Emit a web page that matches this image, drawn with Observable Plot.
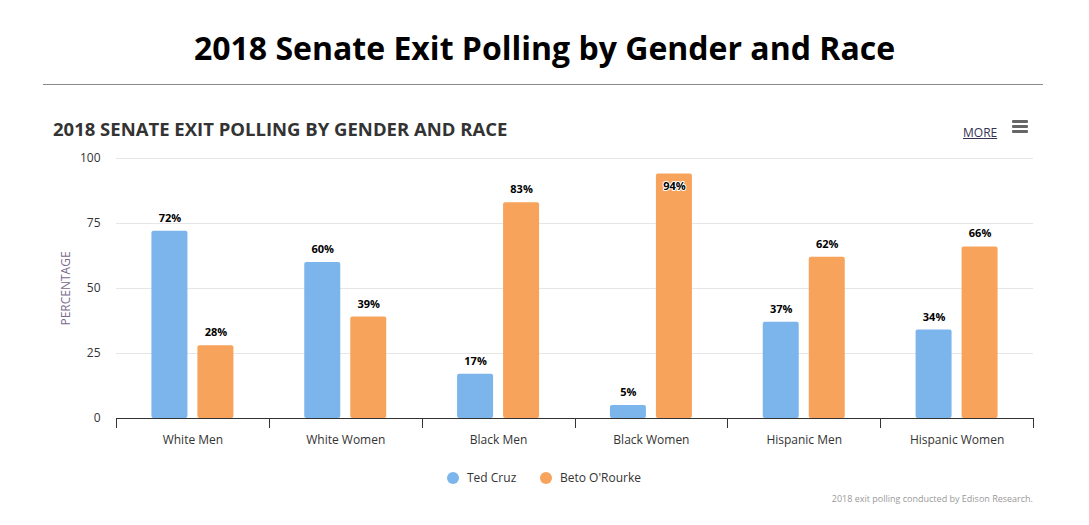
<!DOCTYPE html>
<html>
<head>
<meta charset="utf-8">
<script src="https://cdn.jsdelivr.net/npm/d3@7"></script>
<script src="https://cdn.jsdelivr.net/npm/@observablehq/plot@0.6"></script>
<style>
  html, body { margin: 0; padding: 0; background: #fff; }
  body { width: 1089px; height: 525px; position: relative; overflow: hidden; font-family: "Open Sans", "Noto Sans", sans-serif; }
  .title { position: absolute; left: 0; width: 1089px; top: 28px; line-height: 40px; text-align: center; font-size: 32px; font-weight: 700; color: #000; }
  .divider { position: absolute; left: 43px; width: 1000px; top: 84px; height: 1px; background: #8a8a8a; }
  .subtitle { position: absolute; left: 53px; top: 117px; line-height: 24px; font-size: 18.5px; font-weight: 700; color: #333; }
  .more { position: absolute; left: 963px; top: 125px; line-height: 16px; font-size: 12px; color: #333355; text-decoration: underline; }
  .menu { position: absolute; left: 1012px; top: 120px; width: 16px; }
  .menu span { display: block; height: 2.5px; background: #666; border-radius: 1px; margin-bottom: 2.5px; }
  #chart { position: absolute; left: 0; top: 140px; }
  .legend { position: absolute; left: 0; width: 1089px; top: 470px; height: 16px; }
  .legend .item { position: absolute; top: 0; line-height: 16px; font-size: 12px; color: #333; white-space: nowrap; }
  .legend .dot { position: absolute; top: 2px; width: 12px; height: 12px; border-radius: 50%; }
  .caption { position: absolute; right: 56px; top: 492px; line-height: 14px; font-size: 9px; color: #999; }
</style>
</head>
<body>
<div class="title">2018 Senate Exit Polling by Gender and Race</div>
<div class="divider"></div>
<div class="subtitle">2018 SENATE EXIT POLLING BY GENDER AND RACE</div>
<div class="more">MORE</div>
<div class="menu"><span></span><span></span><span></span></div>
<div id="chart"></div>
<div class="legend" id="legend"></div>
<div class="caption">2018 exit polling conducted by Edison Research.</div>
<script>
// Exit-poll shares (%) by group
const groups = ["White Men", "White Women", "Black Men", "Black Women", "Hispanic Men", "Hispanic Women"];
const candidates = ["Ted Cruz", "Beto O'Rourke"];
const cruz = [72, 60, 17, 5, 37, 34];
const orourke = [28, 39, 83, 94, 62, 66];
const colors = ["#7cb5ec", "#f7a35c"];
const yTicks = [0, 25, 50, 75, 100];

const rows = [];
groups.forEach((g, i) => {
  rows.push({group: g, candidate: candidates[0], value: cruz[i]});
  rows.push({group: g, candidate: candidates[1], value: orourke[i]});
});

const width = 1089, height = 320;
const marginLeft = 116, marginRight = 56, marginTop = 18, marginBottom = 42;
const step = (width - marginLeft - marginRight) / groups.length;
const barW = 36, gap = 10;
// insets place the two bars side by side around each category centre
const innerL = step / 2 - gap / 2 - barW;   // left inset of the first bar
const outerR = step / 2 + gap / 2;          // right inset of the first bar
const shift = gap / 2 + barW / 2;           // label offset from the category centre

const font = "Open Sans, Noto Sans, sans-serif";

// category separator ticks on the x axis
function bandTicks(index, scales, values, dims) {
  const g = d3.create("svg:g").attr("stroke", "#333").attr("stroke-width", 1);
  const y0 = dims.height - dims.marginBottom;
  const xs = groups.map(c => scales.x(c));
  xs.push(dims.width - dims.marginRight);
  for (const x of xs) {
    g.append("line")
      .attr("x1", Math.round(x) + 0.5).attr("x2", Math.round(x) + 0.5)
      .attr("y1", y0).attr("y2", y0 + 10);
  }
  return g.node();
}

const labelStyle = {fontWeight: "bold", fontSize: 11, fill: "#000", stroke: "#fff", strokeWidth: 2};
const fits = d => d.value < 90;   // labels that fit above the bar
const fmt = d => `${d.value}%`;
const byCand = k => rows.filter(d => d.candidate === candidates[k]);

const chart = Plot.plot({
  width, height, marginLeft, marginRight, marginTop, marginBottom,
  style: {fontFamily: font, fontSize: "12px", color: "#333", background: "transparent"},
  x: {type: "band", domain: groups, padding: 0, round: false, label: null, tickSize: 0, tickPadding: 17},
  y: {domain: [0, 100], ticks: yTicks, label: "PERCENTAGE", labelAnchor: "center", labelArrow: "none",
      tickSize: 0, tickPadding: 16, labelOffset: 55},
  color: {domain: candidates, range: colors},
  marks: [
    Plot.gridY(yTicks, {stroke: "#e6e6e6", strokeOpacity: 1}),
    Plot.barY(byCand(0), {x: "group", y: "value", fill: "candidate", insetLeft: innerL, insetRight: outerR, rx: 2}),
    Plot.barY(byCand(1), {x: "group", y: "value", fill: "candidate", insetLeft: outerR, insetRight: innerL, rx: 2}),
    Plot.ruleY([0], {stroke: "#333"}),
    bandTicks,
    Plot.text(byCand(0).filter(fits), {x: "group", y: "value", text: fmt, dx: -shift, dy: -13, ...labelStyle}),
    Plot.text(byCand(1).filter(fits), {x: "group", y: "value", text: fmt, dx: shift, dy: -13, ...labelStyle}),
    Plot.text(byCand(0).filter(d => !fits(d)), {x: "group", y: "value", text: fmt, dx: -shift, dy: 12, ...labelStyle}),
    Plot.text(byCand(1).filter(d => !fits(d)), {x: "group", y: "value", text: fmt, dx: shift, dy: 12, ...labelStyle})
  ]
});
// axis title colour
d3.select(chart).selectAll('[aria-label="y-axis label"] text').attr("fill", "#7b6a8c");
document.getElementById("chart").append(chart);

// legend
const legend = d3.select("#legend");
const legendPos = [447, 540];
candidates.forEach((c, i) => {
  const item = legend.append("div").attr("class", "item").style("left", legendPos[i] + "px");
  item.append("div").attr("class", "dot").style("left", "0px").style("background", colors[i]);
  item.append("span").style("margin-left", "20px").text(c);
});
</script>
</body>
</html>
